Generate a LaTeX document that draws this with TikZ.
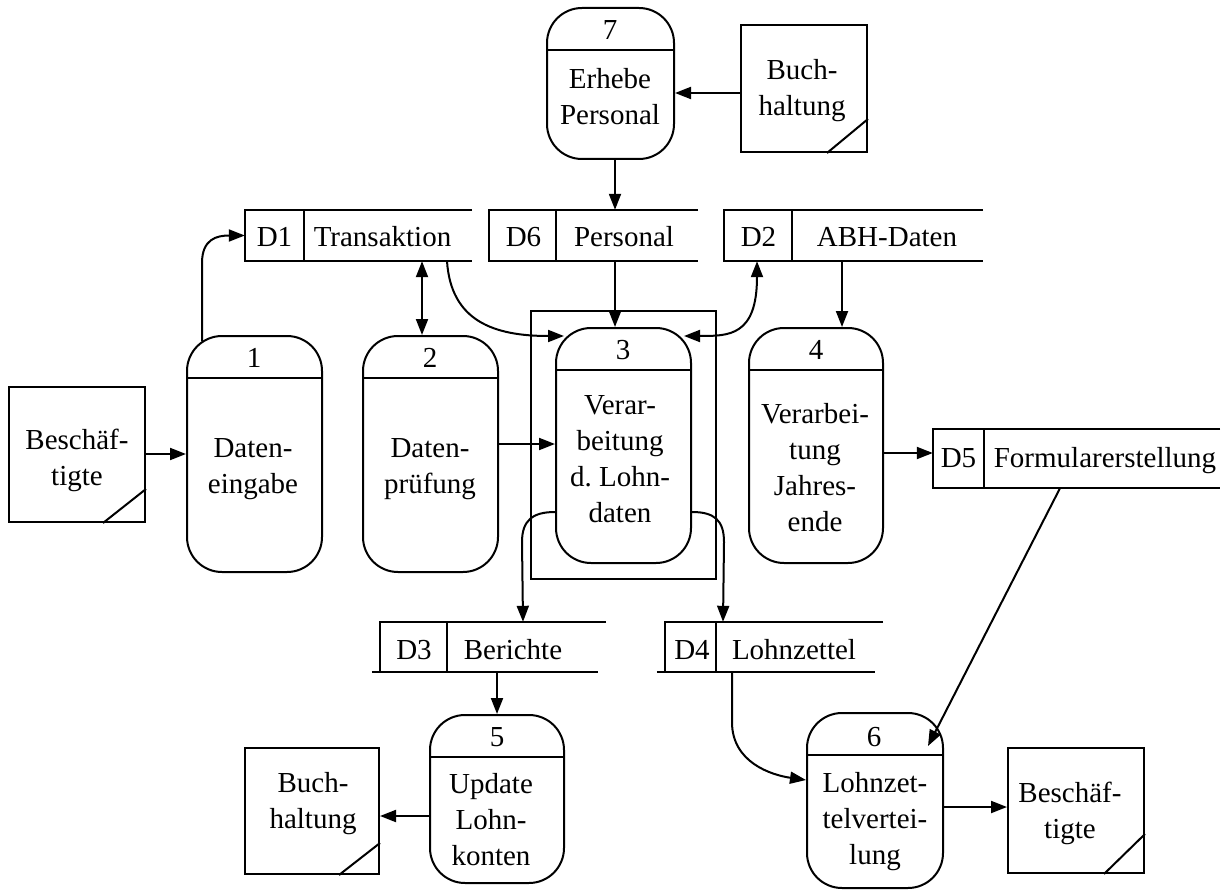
\documentclass[tikz,border=0pt]{standalone}
\usepackage{fontspec}
\setmainfont{Liberation Serif}
\usetikzlibrary{arrows.meta,calc}
\begin{document}
\begin{tikzpicture}[x=1pt,y=-1pt,
  line/.style={line width=2pt},
  flow/.style={line width=2pt,-{Triangle[length=16pt,width=12pt]}},
  biflow/.style={line width=2pt,{Triangle[length=16pt,width=12pt]}-{Triangle[length=16pt,width=12pt]}},
  proc/.style={draw,line width=2pt,rounded corners=35pt,inner sep=0pt},
  ent/.style={draw,line width=2pt,inner sep=0pt},
  store/.style={inner sep=0pt},
  procframe/.style={draw,line width=2pt,inner sep=0pt},
  txt/.style={font=\fontsize{29}{36}\selectfont,align=center,inner sep=0pt},
  lbl/.style={font=\fontsize{29}{36}\selectfont,inner sep=0pt,anchor=base},
]
\useasboundingbox (0,0) rectangle (1230,890);

% frame around process 3
\node[procframe,minimum width=185pt,minimum height=268pt] (frame3) at (623.5,445) {};

% processes
\node[proc,minimum width=127pt,minimum height=151pt] (p7) at (610.5,83.5) {};
\node[proc,minimum width=135pt,minimum height=236pt] (p1) at (254.5,454) {};
\node[proc,minimum width=135pt,minimum height=236pt] (p2) at (430.5,454) {};
\node[proc,minimum width=135pt,minimum height=235pt] (p3) at (623.5,445.5) {};
\node[proc,minimum width=134pt,minimum height=235pt] (p4) at (816,445.5) {};
\node[proc,minimum width=134pt,minimum height=168pt] (p5) at (497,799) {};
\node[proc,minimum width=136pt,minimum height=175pt] (p6) at (875,800.5) {};
\foreach \p in {p1,p2,p3,p4,p5,p6,p7}
  \draw[line] ($(\p.north west)+(0,43)$) -- ($(\p.north east)+(0,43)$);

% process numbers
\node[lbl] (n7) at (610,40) {7};
\node[lbl] (n1) at (254,367) {1};
\node[lbl] (n2) at (430,367) {2};
\node[lbl] (n3) at (623,359) {3};
\node[lbl] (n4) at (816,359) {4};
\node[lbl] (n5) at (497,746) {5};
\node[lbl] (n6) at (874,746) {6};

% process names
\node[txt] (t7) at (610,97) {Erhebe\\Personal};
\node[txt] (t1) at (253,469) {Daten-\\eingabe};
\node[txt] (t2) at (430,469) {Daten-\\prüfung};
\node[txt] (t3) at (620,459.5) {Verar-\\beitung\\d.\ Lohn-\\daten};
\node[txt] (t4) at (815,468) {Verarbei-\\tung\\Jahres-\\ende};
\node[txt] (t5) at (491,819.5) {Update\\Lohn-\\konten};
\node[txt] (t6) at (875,821.5) {Lohnzet-\\telvertei-\\lung};

% external entities
\node[ent,minimum width=126pt,minimum height=127pt] (e7) at (804,88.5) {};
\node[ent,minimum width=136pt,minimum height=135pt] (eB) at (77,454.5) {};
\node[ent,minimum width=134pt,minimum height=126pt] (eBu) at (312,811) {};
\node[ent,minimum width=136pt,minimum height=125pt] (eB2) at (1076,810.5) {};
\draw[line] ($(e7.south east)+(0,-34)$) -- ($(e7.south east)+(-41,0)$);
\draw[line] ($(eB.south east)+(0,-34)$) -- ($(eB.south east)+(-43,0)$);
\draw[line] ($(eBu.south east)+(0,-32)$) -- ($(eBu.south east)+(-41,0)$);
\draw[line] ($(eB2.south east)+(0,-40)$) -- ($(eB2.south east)+(-41,0)$);
\node[txt] (te7) at (802,91) {Buch-\\haltung};
\node[txt] (teB) at (77,460) {Beschäf-\\tigte};
\node[txt] (teBu) at (313,804) {Buch-\\haltung};
\node[txt] (teB2) at (1070,813.5) {Beschäf-\\tigte};

% data stores
\node[store,minimum width=227pt,minimum height=51pt] (d1) at (358.5,235.5) {};
\node[store,minimum width=209pt,minimum height=51pt] (d6) at (593.5,235.5) {};
\node[store,minimum width=259pt,minimum height=51pt] (d2) at (853.5,235.5) {};
\node[store,minimum width=287pt,minimum height=59pt] (d5) at (1076.5,458.5) {};
\node[store,minimum width=226pt,minimum height=50pt] (d3) at (493,647) {};
\node[store,minimum width=218pt,minimum height=50pt] (d4) at (774,647) {};
\foreach \d/\s in {d1/304,d6/556,d2/792,d5/984} {
  \draw[line] (\d.north east) -- (\d.north west) -- (\d.south west) -- (\d.south east);
  \draw[line] (\d.north -| \s,0) -- (\d.south -| \s,0);
}
\foreach \d/\s in {d3/447,d4/716} {
  \draw[line] (\d.north east) -- (\d.north west) -- (\d.south west);
  \draw[line] ($(\d.south west)+(-8,0)$) -- ($(\d.south east)+(-8,0)$);
  \draw[line] (\d.north -| \s,0) -- (\d.south -| \s,0);
}
\node[lbl] (l1a) at (274.5,247) {D1};
\node[lbl] (l1b) at (382.5,247) {Transaktion};
\node[lbl] (l6a) at (523.5,247) {D6};
\node[lbl] (l6b) at (624,247) {Personal};
\node[lbl] (l2a) at (758.5,247) {D2};
\node[lbl] (l2b) at (887,247) {ABH-Daten};
\node[lbl] (l5a) at (958.5,467) {D5};
\node[lbl] (l5b) at (1105,467) {Formularerstellung};
\node[lbl] (l3a) at (414,659) {D3};
\node[lbl] (l3b) at (513,659) {Berichte};
\node[lbl] (l4a) at (692,659) {D4};
\node[lbl] (l4b) at (794,659) {Lohnzettel};

% data flows
\draw[flow] (e7.west |- 0,93) -- (p7.east |- 0,93);
\draw[flow] (p7.south -| 615,0) -- (d6.north -| 615,0);
\draw[flow] (eB.east |- 0,454) -- (p1.west |- 0,454);
\draw[flow] ($(p1.north west)+(16,6)$) -- ++(0,-78) .. controls +(0,-24) and +(-28,0) .. (d1.west);
\draw[biflow] (d1.south -| 422,0) -- (p2.north -| 422,0);
\draw[flow] (d1.south -| 447,0) .. controls +(4,60) and +(-70,0) .. ($(p3.north west)+(9,9)$);
\draw[flow] (d6.south -| 615,0) -- (p3.north -| 615,0);
\draw[biflow] (d2.south -| 757,0) .. controls +(0,75) and +(45,0) .. ($(p3.north east)+(-8,9)$);
\draw[flow] (d2.south -| 842,0) -- (p4.north -| 842,0);
\draw[flow] (p2.east |- 0,444) -- (p3.west |- 0,444);
\draw[flow] (p4.east |- 0,453) -- (d5.west |- 0,453);
\draw[flow] (d5.south -| 1060,0) -- ($(p6.north east)+(-16,34)$);
\draw[flow] (p3.west |- 0,512) .. controls +(-22,0) and +(0,-22) .. ++(-33,30) -- (d3.north -| 523,0);
\draw[flow] (p3.east |- 0,512) .. controls +(22,0) and +(0,-22) .. ++(32,30) -- (d4.north -| 723,0);
\draw[flow] (d3.south -| 497,0) -- (p5.north -| 497,0);
\draw[flow] (p5.west |- 0,816) -- (eBu.east |- 0,816);
\draw[flow] (d4.south -| 732,0) -- ++(0,50) .. controls +(0,40) and +(-35,-5) .. (p6.west |- 0,780);
\draw[flow] (p6.east |- 0,807) -- (eB2.west |- 0,807);
\end{tikzpicture}
\end{document}
